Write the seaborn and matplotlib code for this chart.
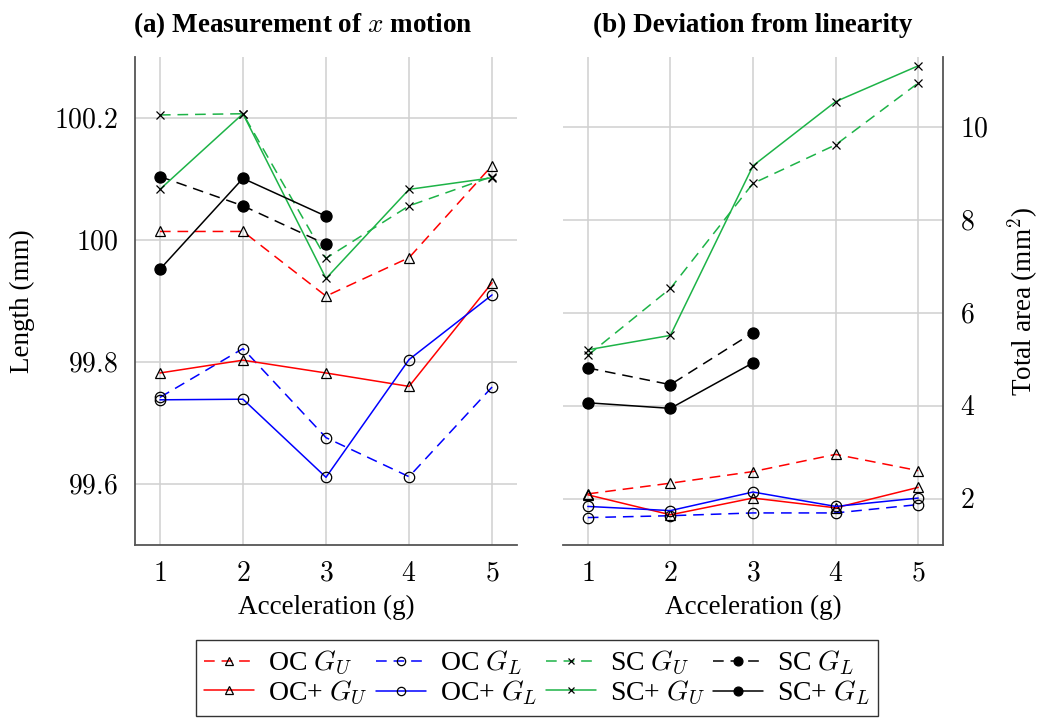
import numpy as np
import pandas as pd
import matplotlib
matplotlib.use("Agg")
import matplotlib.pyplot as plt
from matplotlib.ticker import FuncFormatter, FixedLocator
import seaborn as sns

accel = [1, 2, 3, 4, 5]
accel_sc = [1, 2, 3]

# (a) length in mm
len_oc_gu = [100.014, 100.014, 99.908, 99.971, 100.122]
len_oc_gl = [99.742, 99.822, 99.676, 99.612, 99.759]
len_sc_gu = [100.205, 100.207, 99.970, 100.056, 100.104]
len_sc_gl = [100.104, 100.056, 99.993]
len_ocp_gu = [99.782, 99.803, 99.782, 99.760, 99.930]
len_ocp_gl = [99.738, 99.739, 99.611, 99.804, 99.910]
len_scp_gu = [100.083, 100.207, 99.937, 100.083, 100.102]
len_scp_gl = [99.952, 100.101, 100.039]

# (b) total area in mm^2
area_oc_gu = [2.10, 2.33, 2.58, 2.95, 2.60]
area_oc_gl = [1.59, 1.63, 1.69, 1.69, 1.87]
area_sc_gu = [5.08, 6.52, 8.78, 9.61, 10.94]
area_sc_gl = [4.81, 4.45, 5.57]
area_ocp_gu = [2.08, 1.65, 2.01, 1.80, 2.24]
area_ocp_gl = [1.83, 1.74, 2.14, 1.83, 2.01]
area_scp_gu = [5.20, 5.51, 9.16, 10.54, 11.31]
area_scp_gl = [4.06, 3.94, 4.92]

labels = ["OC $G_U$", "OC $G_L$", "SC $G_U$", "SC $G_L$",
          "OC+ $G_U$", "OC+ $G_L$", "SC+ $G_U$", "SC+ $G_L$"]

sns.set_theme(style="whitegrid")
plt.rcParams["font.family"] = ["Liberation Serif", "DejaVu Serif"]
plt.rcParams["mathtext.fontset"] = "cm"
plt.rcParams["text.color"] = "black"
plt.rcParams["axes.labelcolor"] = "black"
plt.rcParams["xtick.color"] = "black"
plt.rcParams["ytick.color"] = "black"

RED, BLUE, GREEN = "#ff0000", "#0000ff", "#1db347"
DASH = (0, (7, 4.5))
styles = [
    dict(color=RED, linestyle=DASH, marker="^", ms=7, mfc="none"),
    dict(color=BLUE, linestyle=DASH, marker="o", ms=7.5, mfc="none"),
    dict(color=GREEN, linestyle=DASH, marker="x", ms=5.5, mfc="none"),
    dict(color="black", linestyle=DASH, marker="o", ms=8, mfc="black"),
    dict(color=RED, linestyle="-", marker="^", ms=7, mfc="none"),
    dict(color=BLUE, linestyle="-", marker="o", ms=7.5, mfc="none"),
    dict(color=GREEN, linestyle="-", marker="x", ms=5.5, mfc="none"),
    dict(color="black", linestyle="-", marker="o", ms=8, mfc="black"),
]

fig = plt.figure(figsize=(10.4, 7.24), dpi=100)
ax1 = fig.add_axes([135 / 1040, 1 - 545 / 724, 382 / 1040, 488 / 724])
ax2 = fig.add_axes([563 / 1040, 1 - 545 / 724, 380 / 1040, 488 / 724])

left_series = [len_oc_gu, len_oc_gl, len_sc_gu, len_sc_gl,
               len_ocp_gu, len_ocp_gl, len_scp_gu, len_scp_gl]
right_series = [area_oc_gu, area_oc_gl, area_sc_gu, area_sc_gl,
                area_ocp_gu, area_ocp_gl, area_scp_gu, area_scp_gl]

for ax, series in [(ax1, left_series), (ax2, right_series)]:
    for vals, lab, st in zip(series, labels, styles):
        xs = accel if len(vals) == 5 else accel_sc
        sns.lineplot(x=xs, y=vals, ax=ax, label=lab, lw=1.1,
                     mec="black", mew=0.9, **st)
    ax.get_legend().remove()
    ax.set_xlim(0.7, 5.3)
    ax.xaxis.set_major_locator(FixedLocator(accel))
    ax.xaxis.set_major_formatter(FuncFormatter(lambda v, p: f"${v:g}$"))
    ax.yaxis.set_major_formatter(FuncFormatter(lambda v, p: f"${v:g}$"))
    ax.grid(True, color="#d0d0d0", lw=1.1)
    ax.tick_params(labelsize=20, direction="in", length=0, pad=12)
    ax.set_xlabel("Acceleration (g)", fontsize=19.5, labelpad=6)
    for s in ax.spines.values():
        s.set_visible(False)
    ax.spines["bottom"].set_visible(True)
    ax.spines["bottom"].set_color("#555555")
    ax.spines["bottom"].set_linewidth(1.3)

ax1.set_ylim(99.5, 100.3)
ax1.yaxis.set_major_locator(FixedLocator([99.6, 99.8, 100, 100.2]))
ax1.spines["left"].set_visible(True)
ax1.spines["left"].set_color("#555555")
ax1.spines["left"].set_linewidth(1.3)
ax1.set_ylabel("Length (mm)", fontsize=19.5, labelpad=14)
ax1.set_title("(a) Measurement of $x$ motion", fontsize=19.5,
              fontweight="bold", x=0.44, pad=18)

ax2.set_ylim(1, 11.5)
ax2.yaxis.set_major_locator(FixedLocator([2, 4, 6, 8, 10]))
ax2.yaxis.tick_right()
ax2.yaxis.set_label_position("right")
ax2.spines["right"].set_visible(True)
ax2.spines["right"].set_color("#555555")
ax2.spines["right"].set_linewidth(1.3)
ax2.set_ylabel("Total area (mm$^2$)", fontsize=19.5, labelpad=12)
ax2.set_title("(b) Deviation from linearity", fontsize=19.5,
              fontweight="bold", pad=18)

handles, labs = ax1.get_legend_handles_labels()
order = [0, 4, 1, 5, 2, 6, 3, 7]
leg = fig.legend([handles[i] for i in order], [labs[i] for i in order],
                 loc="center", bbox_to_anchor=(537 / 1040, 1 - 678 / 724),
                 ncol=4, fontsize=20, frameon=True, fancybox=False,
                 edgecolor="black", handlelength=1.8, handletextpad=0.5,
                 columnspacing=0.3, labelspacing=0.05, borderpad=0.3,
                 markerscale=0.8)
leg.get_frame().set_linewidth(1.0)

fig.savefig("out.png", dpi=100)
